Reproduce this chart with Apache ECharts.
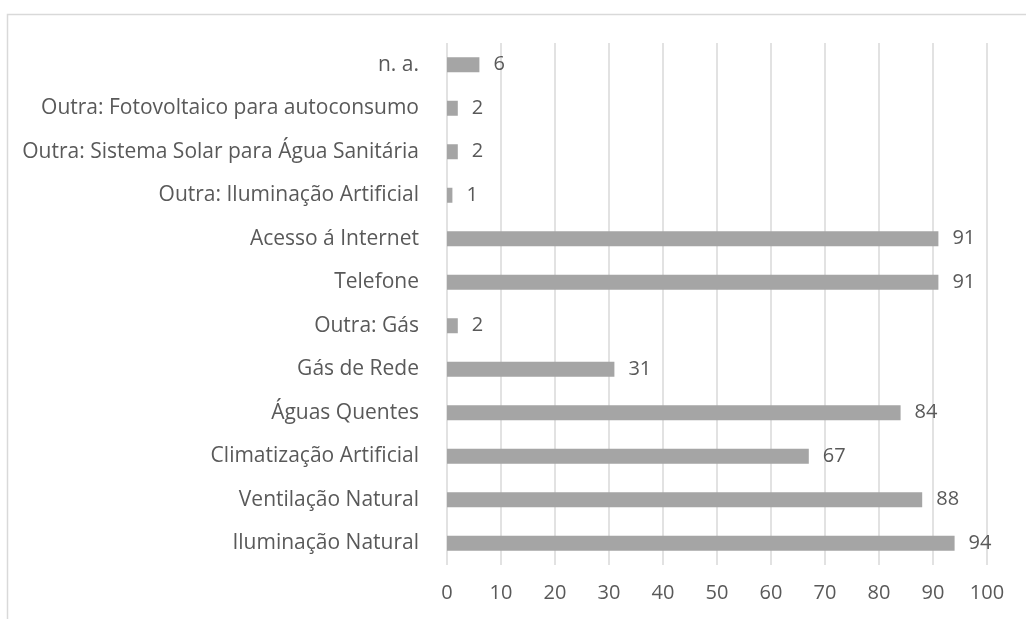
<!DOCTYPE html>
<html>
<head>
<meta charset="utf-8">
<script src="https://cdn.jsdelivr.net/npm/echarts@6/dist/echarts.min.js"></script>
<style>
  html, body { margin: 0; padding: 0; background: #fff; }
  #chart { width: 1026px; height: 619px; }
</style>
</head>
<body>
<div id="chart"></div>
<script>
// categories listed top to bottom
const categories = [
  'n. a.',
  'Outra: Fotovoltaico para autoconsumo',
  'Outra: Sistema Solar para Água Sanitária',
  'Outra: Iluminação Artificial',
  'Acesso á Internet',
  'Telefone',
  'Outra: Gás',
  'Gás de Rede',
  'Águas Quentes',
  'Climatização Artificial',
  'Ventilação Natural',
  'Iluminação Natural'
]
const values = [6, 2, 2, 1, 91, 91, 2, 31, 84, 67, 88, 94]
const xTicks = { min: 0, max: 100, step: 10 }

const TEXT = '#595959'
const GRID = '#d9d9d9'
const BAR = '#a5a5a5'
const FONT = '"Open Sans", "Liberation Sans", sans-serif'

const chart = echarts.init(document.getElementById('chart'), null, { renderer: 'canvas' })

chart.setOption({
  backgroundColor: '#fff',
  animation: false,
  textStyle: { fontFamily: FONT },
  graphic: [{
    type: 'rect',
    shape: { x: 7.5, y: 14.5, width: 1100, height: 700 },
    style: { fill: 'none', stroke: GRID, lineWidth: 1.5 },
    silent: true
  }],
  grid: { left: 447, right: 39, top: 43, bottom: 54, containLabel: false },
  xAxis: {
    type: 'value',
    min: xTicks.min,
    max: xTicks.max,
    interval: xTicks.step,
    axisLine: { show: false },
    axisTick: { show: false },
    splitLine: { show: true, lineStyle: { color: GRID, width: 1.5 } },
    axisLabel: { color: TEXT, fontSize: 20, fontFamily: FONT, margin: 18 }
  },
  yAxis: {
    type: 'category',
    inverse: true,
    data: categories,
    axisLine: { show: false },
    axisTick: { show: false },
    axisLabel: { color: TEXT, fontSize: 21, fontFamily: FONT, margin: 28 }
  },
  series: [{
    type: 'bar',
    data: values,
    barWidth: 15,
    itemStyle: { color: BAR },
    label: {
      show: true,
      position: 'right',
      distance: 14,
      color: TEXT,
      fontSize: 20,
      fontFamily: FONT
    }
  }]
})
</script>
</body>
</html>
